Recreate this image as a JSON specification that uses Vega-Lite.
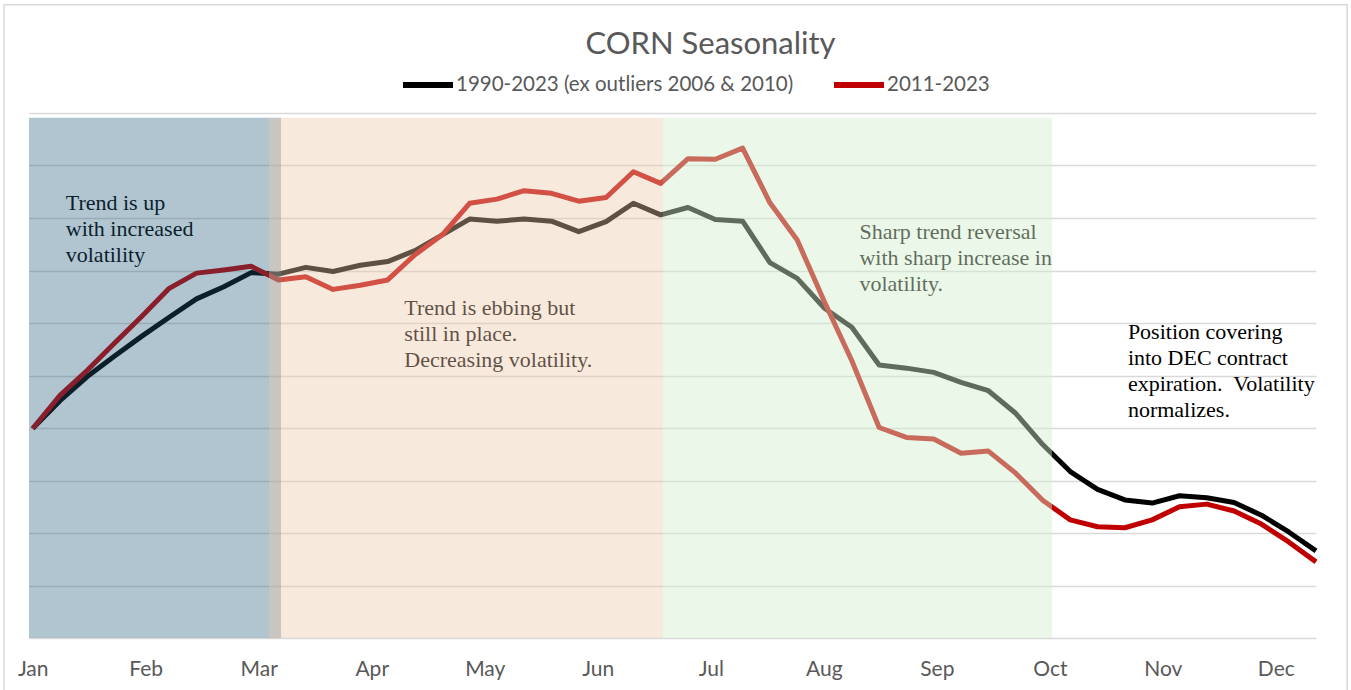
{
  "$schema": "https://vega.github.io/schema/vega-lite/v6.json",
  "width": 1287,
  "height": 525,
  "autosize": {"type": "none"},
  "padding": {"left": 29, "top": 113, "right": 35, "bottom": 52},
  "background": "#ffffff",
  "title": {
    "text": "CORN Seasonality",
    "font": "Lato",
    "fontSize": 31,
    "fontWeight": "normal",
    "color": "#595959",
    "anchor": "middle",
    "frame": "group",
    "dx": 38,
    "offset": -81,
    "baseline": "alphabetic"
  },
  "config": {
    "view": {"stroke": null},
    "legend": {
      "orient": "none",
      "legendX": 371,
      "legendY": -56,
      "direction": "horizontal",
      "symbolType": "stroke",
      "symbolSize": 2500,
      "symbolStrokeWidth": 6,
      "labelFont": "Lato",
      "labelFontSize": 20.5,
      "labelColor": "#595959",
      "labelLimit": 600,
      "labelOffset": 0,
      "columnPadding": 28,
      "padding": 0
    }
  },
  "datasets": {
    "lines": [
      {"week": 0, "series": "1990-2023 (ex outliers 2006 & 2010)", "value": 3.99},
      {"week": 1, "series": "1990-2023 (ex outliers 2006 & 2010)", "value": 4.52},
      {"week": 2, "series": "1990-2023 (ex outliers 2006 & 2010)", "value": 4.98},
      {"week": 3, "series": "1990-2023 (ex outliers 2006 & 2010)", "value": 5.37},
      {"week": 4, "series": "1990-2023 (ex outliers 2006 & 2010)", "value": 5.75},
      {"week": 5, "series": "1990-2023 (ex outliers 2006 & 2010)", "value": 6.11},
      {"week": 6, "series": "1990-2023 (ex outliers 2006 & 2010)", "value": 6.46},
      {"week": 7, "series": "1990-2023 (ex outliers 2006 & 2010)", "value": 6.69},
      {"week": 8, "series": "1990-2023 (ex outliers 2006 & 2010)", "value": 6.96},
      {"week": 9, "series": "1990-2023 (ex outliers 2006 & 2010)", "value": 6.93},
      {"week": 10, "series": "1990-2023 (ex outliers 2006 & 2010)", "value": 7.06},
      {"week": 11, "series": "1990-2023 (ex outliers 2006 & 2010)", "value": 6.98},
      {"week": 12, "series": "1990-2023 (ex outliers 2006 & 2010)", "value": 7.10},
      {"week": 13, "series": "1990-2023 (ex outliers 2006 & 2010)", "value": 7.17},
      {"week": 14, "series": "1990-2023 (ex outliers 2006 & 2010)", "value": 7.38},
      {"week": 15, "series": "1990-2023 (ex outliers 2006 & 2010)", "value": 7.68},
      {"week": 16, "series": "1990-2023 (ex outliers 2006 & 2010)", "value": 7.98},
      {"week": 17, "series": "1990-2023 (ex outliers 2006 & 2010)", "value": 7.94},
      {"week": 18, "series": "1990-2023 (ex outliers 2006 & 2010)", "value": 7.98},
      {"week": 19, "series": "1990-2023 (ex outliers 2006 & 2010)", "value": 7.94},
      {"week": 20, "series": "1990-2023 (ex outliers 2006 & 2010)", "value": 7.74},
      {"week": 21, "series": "1990-2023 (ex outliers 2006 & 2010)", "value": 7.93},
      {"week": 22, "series": "1990-2023 (ex outliers 2006 & 2010)", "value": 8.28},
      {"week": 23, "series": "1990-2023 (ex outliers 2006 & 2010)", "value": 8.06},
      {"week": 24, "series": "1990-2023 (ex outliers 2006 & 2010)", "value": 8.20},
      {"week": 25, "series": "1990-2023 (ex outliers 2006 & 2010)", "value": 7.97},
      {"week": 26, "series": "1990-2023 (ex outliers 2006 & 2010)", "value": 7.94},
      {"week": 27, "series": "1990-2023 (ex outliers 2006 & 2010)", "value": 7.15},
      {"week": 28, "series": "1990-2023 (ex outliers 2006 & 2010)", "value": 6.85},
      {"week": 29, "series": "1990-2023 (ex outliers 2006 & 2010)", "value": 6.28},
      {"week": 30, "series": "1990-2023 (ex outliers 2006 & 2010)", "value": 5.92},
      {"week": 31, "series": "1990-2023 (ex outliers 2006 & 2010)", "value": 5.20},
      {"week": 32, "series": "1990-2023 (ex outliers 2006 & 2010)", "value": 5.14},
      {"week": 33, "series": "1990-2023 (ex outliers 2006 & 2010)", "value": 5.06},
      {"week": 34, "series": "1990-2023 (ex outliers 2006 & 2010)", "value": 4.87},
      {"week": 35, "series": "1990-2023 (ex outliers 2006 & 2010)", "value": 4.71},
      {"week": 36, "series": "1990-2023 (ex outliers 2006 & 2010)", "value": 4.28},
      {"week": 37, "series": "1990-2023 (ex outliers 2006 & 2010)", "value": 3.68},
      {"week": 38, "series": "1990-2023 (ex outliers 2006 & 2010)", "value": 3.17},
      {"week": 39, "series": "1990-2023 (ex outliers 2006 & 2010)", "value": 2.83},
      {"week": 40, "series": "1990-2023 (ex outliers 2006 & 2010)", "value": 2.63},
      {"week": 41, "series": "1990-2023 (ex outliers 2006 & 2010)", "value": 2.57},
      {"week": 42, "series": "1990-2023 (ex outliers 2006 & 2010)", "value": 2.71},
      {"week": 43, "series": "1990-2023 (ex outliers 2006 & 2010)", "value": 2.67},
      {"week": 44, "series": "1990-2023 (ex outliers 2006 & 2010)", "value": 2.58},
      {"week": 45, "series": "1990-2023 (ex outliers 2006 & 2010)", "value": 2.34},
      {"week": 46, "series": "1990-2023 (ex outliers 2006 & 2010)", "value": 2.02},
      {"week": 47, "series": "1990-2023 (ex outliers 2006 & 2010)", "value": 1.66},
      {"week": 0, "series": "2011-2023", "value": 3.99},
      {"week": 1, "series": "2011-2023", "value": 4.62},
      {"week": 2, "series": "2011-2023", "value": 5.10},
      {"week": 3, "series": "2011-2023", "value": 5.62},
      {"week": 4, "series": "2011-2023", "value": 6.13},
      {"week": 5, "series": "2011-2023", "value": 6.66},
      {"week": 6, "series": "2011-2023", "value": 6.95},
      {"week": 7, "series": "2011-2023", "value": 7.01},
      {"week": 8, "series": "2011-2023", "value": 7.08},
      {"week": 9, "series": "2011-2023", "value": 6.82},
      {"week": 10, "series": "2011-2023", "value": 6.88},
      {"week": 11, "series": "2011-2023", "value": 6.64},
      {"week": 12, "series": "2011-2023", "value": 6.72},
      {"week": 13, "series": "2011-2023", "value": 6.82},
      {"week": 14, "series": "2011-2023", "value": 7.30},
      {"week": 15, "series": "2011-2023", "value": 7.68},
      {"week": 16, "series": "2011-2023", "value": 8.28},
      {"week": 17, "series": "2011-2023", "value": 8.36},
      {"week": 18, "series": "2011-2023", "value": 8.52},
      {"week": 19, "series": "2011-2023", "value": 8.47},
      {"week": 20, "series": "2011-2023", "value": 8.32},
      {"week": 21, "series": "2011-2023", "value": 8.39},
      {"week": 22, "series": "2011-2023", "value": 8.88},
      {"week": 23, "series": "2011-2023", "value": 8.66},
      {"week": 24, "series": "2011-2023", "value": 9.13},
      {"week": 25, "series": "2011-2023", "value": 9.12},
      {"week": 26, "series": "2011-2023", "value": 9.33},
      {"week": 27, "series": "2011-2023", "value": 8.29},
      {"week": 28, "series": "2011-2023", "value": 7.58},
      {"week": 29, "series": "2011-2023", "value": 6.40},
      {"week": 30, "series": "2011-2023", "value": 5.28},
      {"week": 31, "series": "2011-2023", "value": 4.01},
      {"week": 32, "series": "2011-2023", "value": 3.82},
      {"week": 33, "series": "2011-2023", "value": 3.79},
      {"week": 34, "series": "2011-2023", "value": 3.52},
      {"week": 35, "series": "2011-2023", "value": 3.56},
      {"week": 36, "series": "2011-2023", "value": 3.14},
      {"week": 37, "series": "2011-2023", "value": 2.62},
      {"week": 38, "series": "2011-2023", "value": 2.25},
      {"week": 39, "series": "2011-2023", "value": 2.12},
      {"week": 40, "series": "2011-2023", "value": 2.10},
      {"week": 41, "series": "2011-2023", "value": 2.25},
      {"week": 42, "series": "2011-2023", "value": 2.50},
      {"week": 43, "series": "2011-2023", "value": 2.55},
      {"week": 44, "series": "2011-2023", "value": 2.42},
      {"week": 45, "series": "2011-2023", "value": 2.17},
      {"week": 46, "series": "2011-2023", "value": 1.83},
      {"week": 47, "series": "2011-2023", "value": 1.45}
    ],
    "shades": [
      {"zone": "up", "start": -0.136, "end": 9.095},
      {"zone": "ebb", "start": 8.655, "end": 23.08},
      {"zone": "reversal", "start": 23.08, "end": 37.33}
    ],
    "notes": [
      {"week": 1.21, "value": 8.48, "note": "Trend is up\nwith increased\nvolatility"},
      {"week": 13.61, "value": 6.47, "note": "Trend is ebbing but\nstill in place.\nDecreasing volatility."},
      {"week": 30.28, "value": 7.92, "note": "Sharp trend reversal\nwith sharp increase in\nvolatility."},
      {"week": 40.11, "value": 6.01, "note": "Position covering\ninto DEC contract\nexpiration.\u00a0 Volatility\nnormalizes."}
    ]
  },
  "layer": [
    {
      "data": {"name": "lines"},
      "mark": {"type": "line", "strokeWidth": 5, "strokeJoin": "round"},
      "encoding": {
        "x": {
          "field": "week",
          "type": "quantitative",
          "scale": {"domain": [-0.136, 47.0], "nice": false, "zero": false},
          "axis": {
            "values": [0, 4.139, 8.278, 12.417, 16.556, 20.695, 24.834, 28.973, 33.112, 37.251, 41.39, 45.529],
            "labelExpr": "['Jan','Feb','Mar','Apr','May','Jun','Jul','Aug','Sep','Oct','Nov','Dec'][round(datum.value/4.139)]",
            "grid": false,
            "domain": false,
            "ticks": false,
            "tickSize": 0,
            "labelPadding": 20,
            "labelFont": "Lato",
            "labelFontSize": 21,
            "labelColor": "#595959",
            "labelFlush": false,
            "labelOverlap": false,
            "title": null
          }
        },
        "y": {
          "field": "value",
          "type": "quantitative",
          "scale": {"domain": [0, 10], "nice": false},
          "axis": {
            "values": [0, 1, 2, 3, 4, 5, 6, 7, 8, 9, 10],
            "labels": false,
            "ticks": false,
            "domain": false,
            "grid": true,
            "gridColor": "#d9d9d9",
            "gridWidth": 1.3,
            "title": null
          }
        },
        "color": {
          "field": "series",
          "type": "nominal",
          "scale": {
            "domain": ["1990-2023 (ex outliers 2006 & 2010)", "2011-2023"],
            "range": ["#000000", "#c00000"]
          },
          "legend": {"title": null}
        }
      }
    },
    {
      "data": {"name": "notes"},
      "mark": {
        "type": "text",
        "font": "Liberation Serif",
        "fontSize": 22,
        "align": "left",
        "baseline": "top",
        "lineBreak": "\n",
        "lineHeight": 26,
        "color": "#000000"
      },
      "encoding": {
        "x": {"field": "week", "type": "quantitative"},
        "y": {"field": "value", "type": "quantitative"},
        "text": {"field": "note"}
      }
    },
    {
      "data": {"name": "shades"},
      "mark": {"type": "rect"},
      "encoding": {
        "x": {"field": "start", "type": "quantitative"},
        "x2": {"field": "end"},
        "y": {"datum": 0, "type": "quantitative"},
        "y2": {"datum": 9.91},
        "fill": {
          "field": "zone",
          "type": "nominal",
          "scale": {"domain": ["up", "ebb", "reversal"], "range": ["#1f597b", "#eec8ab", "#d3eecc"]},
          "legend": null
        },
        "fillOpacity": {
          "field": "zone",
          "type": "ordinal",
          "scale": {"domain": ["up", "ebb", "reversal"], "range": [0.35, 0.45, 0.45]},
          "legend": null
        }
      }
    },
    {
      "data": {"values": [{}]},
      "mark": {"type": "rect", "fill": null, "filled": false, "stroke": "#d9d9d9", "strokeWidth": 1.5, "clip": false},
      "encoding": {
        "x": {"datum": -1.051, "type": "quantitative"},
        "x2": {"datum": 48.14},
        "y": {"datum": 12.06, "type": "quantitative"},
        "y2": {"datum": -1.6}
      }
    }
  ]
}
